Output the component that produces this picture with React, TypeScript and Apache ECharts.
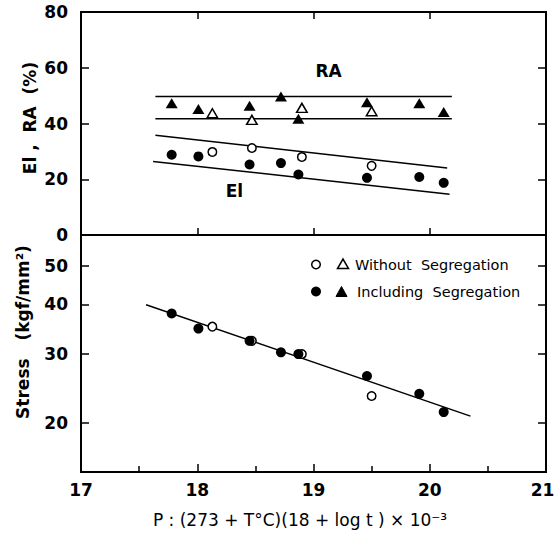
import React, { useEffect, useRef } from 'react';
import * as echarts from 'echarts';

// ---- data ----
// Larson-Miller parameter P of each specimen
const P_INCL = [17.78, 18.01, 18.45, 18.72, 18.87, 19.46, 19.91, 20.12];
const P_WITHOUT = [18.13, 18.47, 18.9, 19.5];
// Reduction of area RA (%)
const RA_INCL = [47.3, 45.2, 46.4, 49.7, 41.7, 47.6, 47.3, 44.1];
const RA_WITHOUT = [43.7, 41.3, 45.6, 44.4];
// Elongation El (%)
const EL_INCL = [28.8, 28.2, 25.3, 25.8, 21.7, 20.5, 20.8, 18.7];
const EL_WITHOUT = [29.8, 31.2, 28.0, 24.8];
// Stress (kgf/mm2)
const STRESS_INCL = [37.9, 34.7, 32.3, 30.2, 29.9, 26.3, 23.7, 21.3];
const STRESS_WITHOUT = [35.1, 32.3, 29.9, 23.4];
// band / fit lines (endpoints)
const RA_BAND_P = [17.64, 20.19];
const RA_UPPER = [49.7, 49.7];
const RA_LOWER = [41.7, 41.7];
const EL_UPPER_P = [17.64, 20.15];
const EL_UPPER = [35.8, 24.0];
const EL_LOWER_P = [17.62, 20.17];
const EL_LOWER = [26.4, 14.6];
const FIT_P = [17.56, 20.35];
const FIT_STRESS = [39.9, 20.8];
// annotations
const TOP_LABELS = ['RA', 'El'];
const TOP_LABEL_P = [19.13, 18.32];
const TOP_LABEL_V = [58.8, 15.8];
// axes
const P_RANGE = [17, 21];
const PCT_RANGE = [0, 80];
const PCT_STEP = 20;
const STRESS_RANGE = [15, 60];
const STRESS_TICKS = [20, 30, 40, 50];

const FONT = 'DejaVu Sans';

export default function App() {
  const ref = useRef<HTMLDivElement>(null);
  useEffect(() => {
    const chart = echarts.init(ref.current as HTMLDivElement, null, { renderer: 'svg' });
    const lg = (v: number) => Math.log10(v);
    const zip = (xs: number[], ys: number[], f: (v: number) => number = (v) => v) =>
      xs.map((x, i) => [x, f(ys[i])]);
    const black = '#000';
    const axisLine = { show: true, onZero: false, lineStyle: { color: black, width: 2 } };
    const tick = (len: number, extra: any = {}) => ({
      show: true,
      inside: true,
      length: len,
      lineStyle: { color: black, width: 1.5 },
      ...extra,
    });
    const tickLabel = { color: black, fontFamily: FONT, fontWeight: 'bold', fontSize: 17 };
    const noSplit = { show: false };
    const xBase = { type: 'value', min: P_RANGE[0], max: P_RANGE[1], interval: 1, axisLine, splitLine: noSplit };
    const stressTicks = STRESS_TICKS.map(lg);

    const lineSeries = (name: string, xs: number[], ys: number[], xi: number, yi: number, f?: (v: number) => number) => ({
      name,
      type: 'line',
      xAxisIndex: xi,
      yAxisIndex: yi,
      data: zip(xs, ys, f),
      symbol: 'none',
      lineStyle: { color: black, width: 1.5 },
      silent: true,
      z: 2,
    });
    const scatter = (
      name: string,
      xs: number[],
      ys: number[],
      xi: number,
      yi: number,
      symbol: string,
      open: boolean,
      f?: (v: number) => number
    ) => ({
      name,
      type: 'scatter',
      xAxisIndex: xi,
      yAxisIndex: yi,
      data: zip(xs, ys, f),
      symbol,
      symbolSize: symbol === 'triangle' ? (open ? [10.5, 9] : [12, 10]) : open ? 8.5 : 10,
      itemStyle: open
        ? { color: '#fff', borderColor: black, borderWidth: 1.5, opacity: 1 }
        : { color: black, opacity: 1 },
      z: 3,
    });

    const option: any = {
      animation: false,
      backgroundColor: '#fff',
      textStyle: { fontFamily: FONT },
      grid: [
        { left: 81, right: 10, top: 12, height: 223, show: true, borderColor: black, borderWidth: 2, backgroundColor: 'transparent', containLabel: false, outerBoundsMode: 'none' },
        { left: 81, right: 10, top: 235, height: 237, show: true, borderColor: black, borderWidth: 2, backgroundColor: 'transparent', containLabel: false, outerBoundsMode: 'none' },
      ],
      xAxis: [
        { ...xBase, gridIndex: 0, position: 'bottom', axisTick: tick(7), axisLabel: { show: false } },
        { ...xBase, gridIndex: 0, position: 'top', axisTick: tick(7), axisLabel: { show: false } },
        {
          ...xBase,
          gridIndex: 1,
          position: 'bottom',
          axisTick: tick(8),
          minorTick: { show: true, splitNumber: 2, length: 6, lineStyle: { color: black, width: 1.5 } },
          axisLabel: {
            ...tickLabel,
            margin: 9,
            formatter: (v: number) => (v === P_RANGE[1] ? '{m|' + v + '}' : String(v)),
            rich: { m: { ...tickLabel, padding: [0, 7, 0, 0] } },
          },
        },
      ],
      yAxis: [
        {
          type: 'value',
          gridIndex: 0,
          position: 'left',
          min: PCT_RANGE[0],
          max: PCT_RANGE[1],
          interval: PCT_STEP,
          axisLine,
          axisTick: tick(8),
          axisLabel: { ...tickLabel, margin: 13 },
          splitLine: noSplit,
        },
        {
          type: 'value',
          gridIndex: 0,
          position: 'right',
          min: PCT_RANGE[0],
          max: PCT_RANGE[1],
          interval: PCT_STEP,
          axisLine,
          axisTick: tick(8),
          axisLabel: { show: false },
          splitLine: noSplit,
        },
        {
          type: 'value',
          gridIndex: 1,
          position: 'left',
          min: lg(STRESS_RANGE[0]),
          max: lg(STRESS_RANGE[1]),
          axisLine,
          axisTick: tick(8, { customValues: stressTicks }),
          axisLabel: {
            ...tickLabel,
            margin: 13,
            customValues: stressTicks,
            formatter: (v: number) => String(Math.round(Math.pow(10, v))),
          },
          splitLine: noSplit,
        },
        {
          type: 'value',
          gridIndex: 1,
          position: 'right',
          min: lg(STRESS_RANGE[0]),
          max: lg(STRESS_RANGE[1]),
          axisLine,
          axisTick: tick(8, { customValues: stressTicks }),
          axisLabel: { show: false },
          splitLine: noSplit,
        },
      ],
      series: [
        lineSeries('RA upper', RA_BAND_P, RA_UPPER, 0, 0),
        lineSeries('RA lower', RA_BAND_P, RA_LOWER, 0, 0),
        lineSeries('El upper', EL_UPPER_P, EL_UPPER, 0, 0),
        lineSeries('El lower', EL_LOWER_P, EL_LOWER, 0, 0),
        scatter('RA including', P_INCL, RA_INCL, 0, 0, 'triangle', false),
        scatter('RA without', P_WITHOUT, RA_WITHOUT, 0, 0, 'triangle', true),
        scatter('El including', P_INCL, EL_INCL, 0, 0, 'circle', false),
        scatter('El without', P_WITHOUT, EL_WITHOUT, 0, 0, 'circle', true),
        lineSeries('Stress fit', FIT_P, FIT_STRESS, 2, 2, lg),
        scatter('Stress without', P_WITHOUT, STRESS_WITHOUT, 2, 2, 'circle', true, lg),
        scatter('Stress including', P_INCL, STRESS_INCL, 2, 2, 'circle', false, lg),
        {
          name: 'labels',
          type: 'scatter',
          xAxisIndex: 0,
          yAxisIndex: 0,
          symbolSize: 1,
          itemStyle: { color: 'rgba(0,0,0,0)', opacity: 1 },
          silent: true,
          data: TOP_LABELS.map((n, i) => ({ name: n, value: [TOP_LABEL_P[i], TOP_LABEL_V[i]] })),
          label: {
            show: true,
            position: 'inside',
            formatter: '{b}',
            color: black,
            opacity: 1,
            fontFamily: FONT,
            fontWeight: 'bold',
            fontSize: 17,
          },
          z: 4,
        },
      ],
      graphic: [
        // legend
        { type: 'circle', shape: { cx: 316, cy: 264.5, r: 4.3 }, style: { fill: '#fff', stroke: black, lineWidth: 1.5 } },
        { type: 'polygon', shape: { points: [[337.5, 268.5], [348.5, 268.5], [343, 259]] }, style: { fill: '#fff', stroke: black, lineWidth: 1.5 } },
        { type: 'text', x: 355, y: 264.5, style: { text: 'Without  Segregation', fill: black, fontFamily: FONT, fontSize: 14.5, align: 'left', verticalAlign: 'middle' } },
        { type: 'circle', shape: { cx: 316, cy: 291.5, r: 5 }, style: { fill: black, stroke: black, lineWidth: 0 } },
        { type: 'polygon', shape: { points: [[336, 296.5], [347, 296.5], [341.5, 286.5]] }, style: { fill: black, stroke: black, lineWidth: 1 } },
        { type: 'text', x: 357, y: 291.5, style: { text: 'Including  Segregation', fill: black, fontFamily: FONT, fontSize: 14.5, align: 'left', verticalAlign: 'middle' } },
        // axis titles
        { type: 'text', x: 30, y: 118, rotation: Math.PI / 2, style: { text: 'El ,  RA  (%)', fill: black, fontFamily: FONT, fontWeight: 'bold', fontSize: 17, align: 'center', verticalAlign: 'middle' } },
        { type: 'text', x: 23, y: 332, rotation: Math.PI / 2, style: { text: 'Stress   (kgf/mm²)', fill: black, fontFamily: FONT, fontWeight: 'bold', fontSize: 17, align: 'center', verticalAlign: 'middle' } },
        { type: 'text', x: 300, y: 520, style: { text: 'P : (273 + T°C)(18 + log t ) × 10⁻³', fill: black, fontFamily: FONT, fontSize: 17, align: 'center', verticalAlign: 'middle' } },
      ],
    };
    chart.setOption(option);
    return () => chart.dispose();
  }, []);
  return <div ref={ref} style={{ position: 'fixed', left: 0, top: 0, width: 556, height: 541, background: '#fff' }} />;
}
